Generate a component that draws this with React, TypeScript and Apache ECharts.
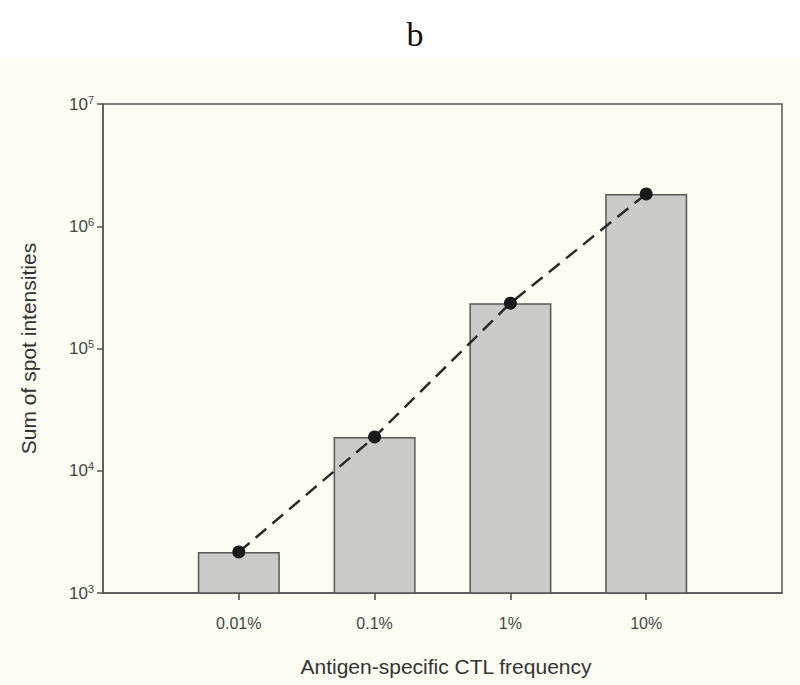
import React, { useEffect, useRef } from "react";
import * as echarts from "echarts";

const categories = ["", "0.01%", "0.1%", "1%", "10%", ""];
const barValues: (number | string)[] = ["-", 2165, 18900, 235000, 1840000, "-"];
const lineValues: (number | string)[] = ["-", 2165, 18900, 235000, 1840000, "-"];
const yTickExponents = [3, 4, 5, 6, 7];

export default function App() {
  const ref = useRef<HTMLDivElement>(null);
  useEffect(() => {
    document.body.style.margin = "0";
    const chart = echarts.init(ref.current!, null, { renderer: "svg" });
    chart.setOption({
      animation: false,
      backgroundColor: "#fdfdf4",
      graphic: [
        { type: "rect", left: 0, top: 0, shape: { width: 800, height: 58 }, style: { fill: "#ffffff" }, z: -10 },
      ],
      title: [
        {
          text: "b",
          left: 410,
          top: 12,
          textAlign: "center",
          textStyle: { fontFamily: "Liberation Serif", fontSize: 34, fontWeight: "normal", color: "#111" },
        },
        {
          text: "Antigen-specific CTL frequency",
          left: 441,
          top: 651,
          textAlign: "center",
          textStyle: { fontFamily: "Liberation Sans", fontSize: 21, fontWeight: "normal", color: "#333" },
        },
      ],
      grid: {
        left: 103,
        top: 104,
        right: 18,
        bottom: 92,
        show: true,
        borderColor: "#555",
        borderWidth: 1.5,
        backgroundColor: "transparent",
      },
      xAxis: {
        type: "category",
        data: categories,
        boundaryGap: false,
        axisLine: { lineStyle: { color: "#555", width: 1.5 } },
        axisTick: {
          length: 7,
          lineStyle: { color: "#444", width: 1.5 },
          interval: (i: number, v: string) => v !== "",
        },
        axisLabel: {
          margin: 22,
          interval: 0,
          fontFamily: "Liberation Sans",
          fontSize: 16,
          color: "#444",
        },
        splitLine: { show: false },
      },
      yAxis: {
        type: "log",
        logBase: 10,
        min: Math.pow(10, yTickExponents[0]),
        max: Math.pow(10, yTickExponents[yTickExponents.length - 1]),
        name: "Sum of spot intensities",
        nameLocation: "middle",
        nameGap: 64,
        nameTextStyle: { fontFamily: "Liberation Sans", fontSize: 21, color: "#333" },
        axisLine: { show: true, lineStyle: { color: "#555", width: 1.5 } },
        axisTick: { show: true, length: 6, lineStyle: { color: "#555", width: 1.5 } },
        minorTick: { show: false },
        splitLine: { show: false },
        axisLabel: {
          margin: 9,
          fontFamily: "Liberation Sans",
          fontSize: 17,
          color: "#444",
          formatter: (v: number) => {
            const e = Math.round(Math.log10(v));
            return "10{sup|" + e + "}";
          },
          rich: {
            sup: { fontSize: 11, color: "#444", fontFamily: "Liberation Sans", verticalAlign: "top", padding: [0, 0, 9, 0] },
          },
        },
      },
      series: [
        {
          type: "bar",
          data: barValues,
          barWidth: 82,
          itemStyle: { color: "#cacac8", borderColor: "#555", borderWidth: 1.5 },
          z: 2,
        },
        {
          type: "line",
          data: lineValues,
          symbol: "circle",
          symbolSize: 13,
          itemStyle: { color: "#1a1a1a" },
          lineStyle: { color: "#2a2a2a", width: 2.5, type: [14, 8] },
          z: 3,
        },
      ],
    });
    return () => chart.dispose();
  }, []);
  return <div ref={ref} style={{ width: 800, height: 685 }} />;
}
